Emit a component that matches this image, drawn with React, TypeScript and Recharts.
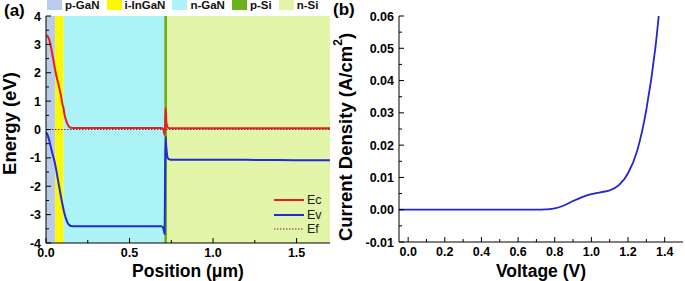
import React from 'react';
import { LineChart, Line, XAxis, YAxis, ReferenceArea, Legend } from 'recharts';

const FONT = 'Arial, "Liberation Sans", sans-serif';

// (a) band diagram
const positions = [0, 0.01, 0.02, 0.03, 0.04, 0.05, 0.06, 0.07, 0.08, 0.09, 0.1, 0.105, 0.11, 0.12, 0.13, 0.14, 0.15, 0.17, 0.2, 0.4, 0.6, 0.69, 0.7, 0.705, 0.71, 0.713, 0.716, 0.72, 0.725, 0.73, 0.74, 0.76, 0.9, 1.2, 1.5, 1.7];
const ecValues = [3.32, 3.28, 3.15, 2.9, 2.58, 2.25, 1.95, 1.7, 1.45, 1.18, 0.85, 0.75, 0.55, 0.33, 0.17, 0.09, 0.06, 0.05, 0.05, 0.05, 0.05, 0.05, 0.03, -0.05, -0.2, 0.2, 0.75, 0.3, 0.12, 0.06, 0.04, 0.04, 0.04, 0.04, 0.04, 0.04];
const evValues = [-0.1, -0.2, -0.4, -0.65, -0.88, -1.1, -1.38, -1.72, -2.05, -2.38, -2.68, -2.82, -2.95, -3.15, -3.3, -3.37, -3.4, -3.41, -3.41, -3.41, -3.41, -3.41, -3.45, -3.55, -3.68, -1.6, -0.25, -0.62, -0.9, -1.02, -1.06, -1.07, -1.07, -1.07, -1.08, -1.08];
const efPositions = [0, 1.7];
const efValues = [0, 0];
const seriesOrder = ['Ec', 'Ev', 'Ef'];

const layerNames = ['p-GaN', 'i-InGaN', 'n-GaN', 'p-Si', 'n-Si'];
const layerStarts = [0, 0.055, 0.105, 0.708, 0.726];
const layerEnds = [0.055, 0.105, 0.708, 0.726, 1.7];
const layerColors = ['#b9cdea', '#fbf800', '#abf3f7', '#6cb01c', '#e2f5a8'];

const posMajor = [0, 0.5, 1.0, 1.5];
const posMinor = [0.25, 0.75, 1.25];
const energyMajor = [-4, -3, -2, -1, 0, 1, 2, 3, 4];
const energyMinor = [-3.5, -2.5, -1.5, -0.5, 0.5, 1.5, 2.5, 3.5];

// (b) J-V curve
const voltages = [-0.05, 0, 0.1, 0.2, 0.3, 0.4, 0.5, 0.6, 0.7, 0.75, 0.8, 0.85, 0.9, 0.95, 1.0, 1.05, 1.1, 1.15, 1.2, 1.25, 1.3, 1.35, 1.4];
const currents = [0, 0, 0, 0, 0, 0, 0, 0, 0, 0.0001, 0.0004, 0.0013, 0.0027, 0.0039, 0.0048, 0.0054, 0.006, 0.0076, 0.0113, 0.0183, 0.031, 0.0505, 0.08];

const voltMajor = [0, 0.2, 0.4, 0.6, 0.8, 1.0, 1.2, 1.4];
const voltMinor = [0.1, 0.3, 0.5, 0.7, 0.9, 1.1, 1.3];
const currentMajor = [-0.01, 0, 0.01, 0.02, 0.03, 0.04, 0.05, 0.06];
const currentMinor = [-0.005, 0.005, 0.015, 0.025, 0.035, 0.045, 0.055];

const bandData = positions.map((p, i) => ({ pos: p, ec: ecValues[i], ev: evValues[i] }));
const efData = efPositions.map((p, i) => ({ pos: p, ef: efValues[i] }));
const jvData = voltages.map((v, i) => ({ v, j: currents[i] }));

const allTicks = (a: number[], b: number[]) => [...a, ...b].sort((x, y) => x - y);

type Side = 'bottom' | 'left' | 'top' | 'right';

function makeTick(side: Side, majors: number[], fmt: (v: number) => string) {
  return (props: any) => {
    const { x, y, payload } = props;
    const v = payload.value;
    const major = majors.some((m) => Math.abs(m - v) < 1e-9);
    const len = major ? 5 : 3;
    const txt = { fontFamily: FONT, fontWeight: 700, fontSize: 12.5, fill: '#000' };
    if (side === 'bottom') {
      return (
        <g>
          <line x1={x} y1={y} x2={x} y2={y - len} stroke="#000" />
          {major && <text x={x} y={y + 14} textAnchor="middle" {...txt}>{fmt(v)}</text>}
        </g>
      );
    }
    if (side === 'left') {
      return (
        <g>
          <line x1={x} y1={y} x2={x + len} y2={y} stroke="#000" />
          {major && <text x={x - 5} y={y + 4.5} textAnchor="end" {...txt}>{fmt(v)}</text>}
        </g>
      );
    }
    if (side === 'top') {
      return <line x1={x} y1={y} x2={x} y2={y + len} stroke="#000" />;
    }
    return <line x1={x} y1={y} x2={x - len} y2={y} stroke="#000" />;
  };
}

const titleStyle = { fontFamily: FONT, fontWeight: 700, fontSize: 18.5, fill: '#000' };
const xTitleStyle = { ...titleStyle, fontSize: 17.5 };

const energyTitle = (props: any) => {
  const vb = props.viewBox;
  const cx = vb.x + 9;
  const cy = vb.y + vb.height / 2 - 6;
  return (
    <text x={cx} y={cy} transform={`rotate(-90 ${cx} ${cy})`} textAnchor="middle" dominantBaseline="central" {...titleStyle}>
      Energy (eV)
    </text>
  );
};

const currentTitle = (props: any) => {
  const vb = props.viewBox;
  const cx = vb.x + 13;
  const cy = vb.y + vb.height / 2 + 8;
  return (
    <text x={cx} y={cy} transform={`rotate(-90 ${cx} ${cy})`} textAnchor="middle" dominantBaseline="central" {...titleStyle}>
      Current Density (A/cm<tspan dy={-7} fontSize={12}>2</tspan><tspan dy={7}>)</tspan>
    </text>
  );
};

const lineLegend = (props: any) => {
  const items = [...(props.payload || [])].sort((a: any, b: any) => seriesOrder.indexOf(a.value) - seriesOrder.indexOf(b.value));
  return (
    <div style={{ fontFamily: FONT }}>
      {items.map((entry: any) => (
        <div key={entry.value} style={{ display: 'flex', alignItems: 'center', height: 14.5 }}>
          <svg width={30} height={4}>
            <line x1={0} y1={2} x2={30} y2={2} stroke={entry.color} strokeWidth={entry.payload?.strokeDasharray ? 1.2 : 2} strokeDasharray={entry.payload?.strokeDasharray} />
          </svg>
          <span style={{ marginLeft: 3, fontSize: 12.5, color: '#222', lineHeight: '14px' }}>{entry.value}</span>
        </div>
      ))}
    </div>
  );
};

function BandChart() {
  const f1 = (v: number) => v.toFixed(1);
  const f0 = (v: number) => String(v);
  return (
    <div style={{ position: 'absolute', left: 0, top: 0, width: 340, height: 281 }}>
      <LineChart width={340} height={281} data={bandData} margin={{ top: 16, right: 10, bottom: 0, left: 0 }}>
        {layerNames.map((n, i) => (
          <ReferenceArea key={n} x1={layerStarts[i]} x2={layerEnds[i]} y1={-4} y2={4} fill={layerColors[i]} fillOpacity={1} stroke="none" ifOverflow="hidden" />
        ))}
        <XAxis dataKey="pos" type="number" domain={[0, 1.7]} allowDataOverflow ticks={allTicks(posMajor, posMinor)} interval={0}
          height={38} tickSize={0} tickMargin={0} tickLine={false} stroke="#000" tick={makeTick('bottom', posMajor, f1)}
          label={{ value: 'Position (μm)', position: 'insideBottom', offset: 4, ...xTitleStyle }} />
        <XAxis xAxisId="top" orientation="top" dataKey="pos" type="number" domain={[0, 1.7]} allowDataOverflow ticks={allTicks(posMajor, posMinor)} interval={0}
          height={0} tickSize={0} tickMargin={0} tickLine={false} stroke="#000" tick={makeTick('top', posMajor, f1)} />
        <YAxis type="number" domain={[-4, 4]} allowDataOverflow ticks={allTicks(energyMajor, energyMinor)} interval={0}
          width={46} tickSize={0} tickMargin={0} tickLine={false} stroke="#000" tick={makeTick('left', energyMajor, f0)}
          label={{ content: energyTitle }} />
        <YAxis yAxisId="right" orientation="right" type="number" domain={[-4, 4]} allowDataOverflow ticks={allTicks(energyMajor, energyMinor)} interval={0}
          width={0} tickSize={0} tickMargin={0} tickLine={false} stroke="#000" tick={makeTick('right', energyMajor, f0)} />
        <Line dataKey="ec" name="Ec" type="monotone" stroke="#e3201b" strokeWidth={2} dot={false} activeDot={false} isAnimationActive={false} />
        <Line dataKey="ev" name="Ev" type="monotone" stroke="#1f2bd8" strokeWidth={2} dot={false} activeDot={false} isAnimationActive={false} />
        <Line data={efData} dataKey="ef" name="Ef" type="linear" stroke="#8b2252" strokeWidth={1.2} strokeDasharray="1.5 1.5" dot={false} activeDot={false} isAnimationActive={false} />
        <Legend layout="vertical" align="center" verticalAlign="middle" content={lineLegend}
          wrapperStyle={{ left: 274, top: 193, width: 60, height: 45 }} />
      </LineChart>
      <div style={{ position: 'absolute', left: 47, top: 0, display: 'flex', gap: 7, fontFamily: FONT, fontWeight: 700, fontSize: 11.5 }}>
        {layerNames.map((n, i) => (
          <div key={n} style={{ display: 'flex', alignItems: 'flex-start', height: 12 }}>
            <span style={{ display: 'inline-block', width: 15, height: 10, background: layerColors[i] }} />
            <span style={{ marginLeft: 3, lineHeight: '11px', color: '#111' }}>{n}</span>
          </div>
        ))}
      </div>
      <div style={{ position: 'absolute', left: 4, top: 1, fontFamily: FONT, fontWeight: 700, fontSize: 17 }}>(a)</div>
    </div>
  );
}

function JVChart() {
  const f1 = (v: number) => v.toFixed(1);
  const f2 = (v: number) => v.toFixed(2);
  return (
    <div style={{ position: 'absolute', left: 332, top: 0, width: 353, height: 281 }}>
      <LineChart width={353} height={281} data={jvData} margin={{ top: 16, right: 2, bottom: 0, left: 0 }}>
        <XAxis dataKey="v" type="number" domain={[-0.05, 1.5]} allowDataOverflow ticks={allTicks(voltMajor, voltMinor)} interval={0}
          height={39} tickSize={0} tickMargin={0} tickLine={false} stroke="#000" tick={makeTick('bottom', voltMajor, f1)}
          label={{ value: 'Voltage (V)', position: 'insideBottom', offset: 4, ...xTitleStyle }} />
        <XAxis xAxisId="top" orientation="top" dataKey="v" type="number" domain={[-0.05, 1.5]} allowDataOverflow ticks={allTicks(voltMajor, voltMinor)} interval={0}
          height={0} tickSize={0} tickMargin={0} tickLine={false} stroke="#000" tick={makeTick('top', voltMajor, f1)} />
        <YAxis type="number" domain={[-0.01, 0.06]} allowDataOverflow ticks={allTicks(currentMajor, currentMinor)} interval={0}
          width={67} tickSize={0} tickMargin={0} tickLine={false} stroke="#000" tick={makeTick('left', currentMajor, f2)}
          label={{ content: currentTitle }} />
        <YAxis yAxisId="right" orientation="right" type="number" domain={[-0.01, 0.06]} allowDataOverflow ticks={allTicks(currentMajor, currentMinor)} interval={0}
          width={0} tickSize={0} tickMargin={0} tickLine={false} stroke="#000" tick={makeTick('right', currentMajor, f2)} />
        <Line dataKey="j" type="monotone" stroke="#2525d0" strokeWidth={1.8} dot={false} activeDot={false} isAnimationActive={false} />
      </LineChart>
      <div style={{ position: 'absolute', left: 1, top: 0, fontFamily: FONT, fontWeight: 700, fontSize: 17 }}>(b)</div>
    </div>
  );
}

export default function App() {
  return (
    <div style={{ position: 'absolute', left: 0, top: 0, width: 685, height: 281, background: '#fff', overflow: 'hidden' }}>
      <BandChart />
      <JVChart />
    </div>
  );
}
